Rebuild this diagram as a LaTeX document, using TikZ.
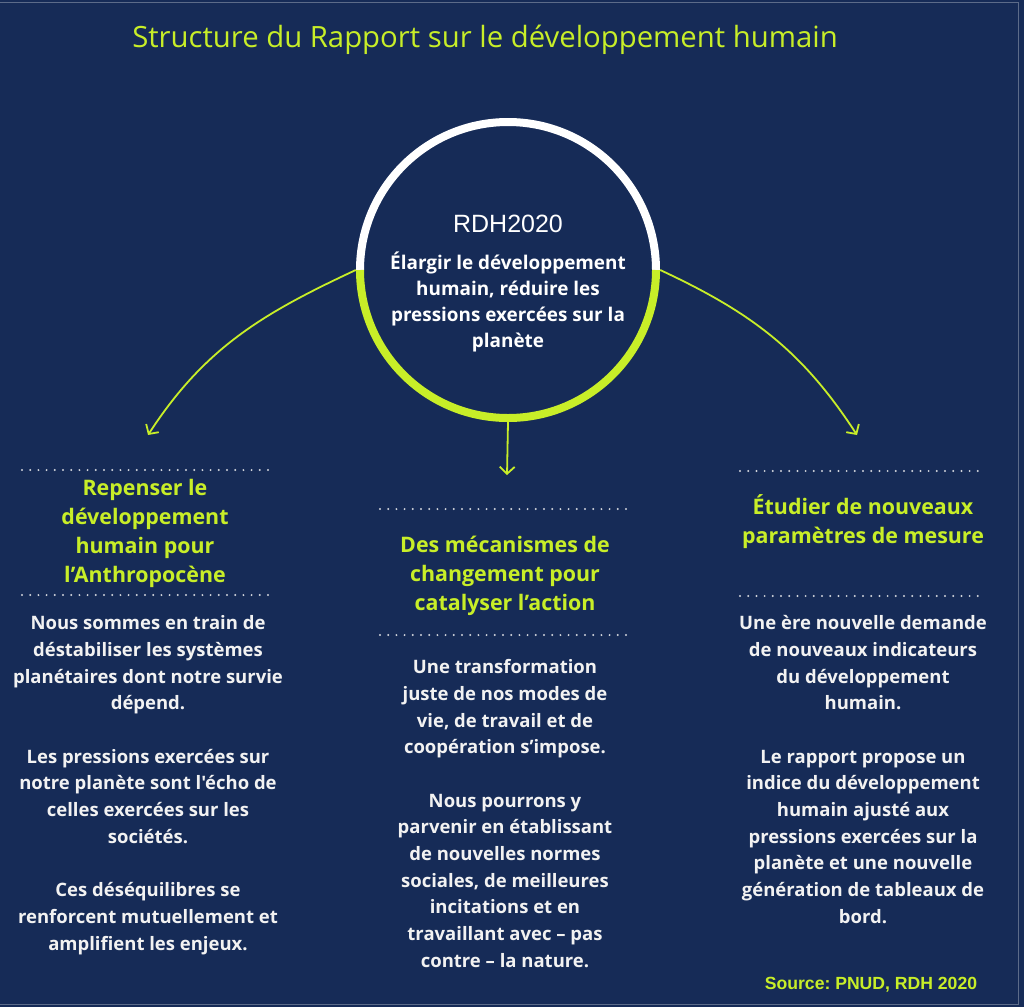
\documentclass[tikz,border=0pt]{standalone}
\usepackage{fontspec}
\setmainfont{Open Sans}[Ligatures=TeXOff]
\newfontfamily\srcfont{Liberation Sans}
\usetikzlibrary{arrows.meta}
\definecolor{navy}{RGB}{22,43,87}
\definecolor{lime}{RGB}{200,238,40}
\definecolor{paper}{RGB}{242,242,242}
\frenchspacing

\begin{document}
\begin{tikzpicture}[x=1pt, y=1pt,
  head/.style={text=lime, align=center, inner sep=0pt, font=\bfseries\fontsize{21.4}{29}\selectfont},
  body/.style={text=paper, align=center, inner sep=0pt, font=\bfseries\fontsize{18.5}{26.7}\selectfont},
  rule/.style={paper!85!navy, line width=2.2pt, line cap=round, dash pattern=on 0pt off 8.2pt},
  link/.style={lime, line width=1.8pt, -{Straight Barb[length=7pt,width=15pt]}}]
  \fill[navy] (0,0) rectangle (1024,-1007);
  \useasboundingbox (0,0) rectangle (1024,-1007);
  \draw[navy!70!white, line width=1pt] (0,-2) -- (1018,-2) -- (1018,-1004) -- (0,-1004);
  \path node (T) at (485,-40) [text=lime, font=\fontsize{29.3}{32}\selectfont]
          {Structure du Rapport sur le développement humain}
        node (H) at (508,-270) [circle, minimum size=304pt] {}
        node (R) at (508,-224) [text=white, font=\srcfont\fontsize{25}{28}\selectfont] {RDH2020}
        node (Hb) at (508,-302) [body, text=white, font=\bfseries\fontsize{18.9}{26.3}\selectfont]
          {Élargir le développement\\ humain, réduire les\\ pressions exercées sur la\\ planète}
        node (A) at (145,-533.5) [head] {Repenser le\\ développement\\ humain pour\\ l’Anthropocène}
        node (B) at (505,-575.5) [head] {Des mécanismes de\\ changement pour\\ catalyser l’action}
        node (C) at (863,-522) [head] {Étudier de nouveaux\\ paramètres de mesure}
        node (Ab) at (148,-785) [body]
          {Nous sommes en train de\\ déstabiliser les systèmes\\ planétaires dont notre survie\\ dépend.\\[26.7pt]
           Les pressions exercées sur\\ notre planète sont l'écho de\\ celles exercées sur les\\ sociétés.\\[26.7pt]
           Ces déséquilibres se\\ renforcent mutuellement et\\ amplifient les enjeux.}
        node (Bb) at (505,-813.5) [body]
          {Une transformation\\ juste de nos modes de\\ vie, de travail et de\\ coopération s’impose.\\[26.7pt]
           Nous pourrons y\\ parvenir en établissant\\ de nouvelles normes\\ sociales, de meilleures\\ incitations et en\\ travaillant avec – pas\\ contre – la nature.}
        node (Cb) at (863,-769.5) [body]
          {Une ère nouvelle demande\\ de nouveaux indicateurs\\ du développement\\ humain.\\[26.7pt]
           Le rapport propose un\\ indice du développement\\ humain ajusté aux\\ pressions exercées sur la\\ planète et une nouvelle\\ génération de tableaux de\\ bord.}
        node (S) at (871,-985) [text=lime, font=\srcfont\bfseries\fontsize{17.6}{19}\selectfont]
          {Source: PNUD, RDH 2020};
  \draw[white, line width=8pt] ([shift={(0:148)}]H.center) arc[start angle=0, end angle=180, radius=148];
  \draw[lime, line width=8pt] ([shift={(180:148)}]H.center) arc[start angle=180, end angle=360, radius=148];
  \coordinate (La) at (148,-435);
  \coordinate (Ma) at (507,-475);
  \coordinate (Ra) at (857,-435);
  \draw[link] (H.west) to[out=205, in=57] (La);
  \draw[link] (H.east) to[out=-25, in=123] (Ra);
  \draw[link] (H.south) -- (Ma);
  \draw[rule] (22,-470) -- (268,-470)  (22,-595) -- (268,-595)
              (380,-509) -- (627,-509) (380,-635) -- (627,-635)
              (740,-471) -- (985,-471) (740,-596) -- (985,-596);
\end{tikzpicture}
\end{document}
